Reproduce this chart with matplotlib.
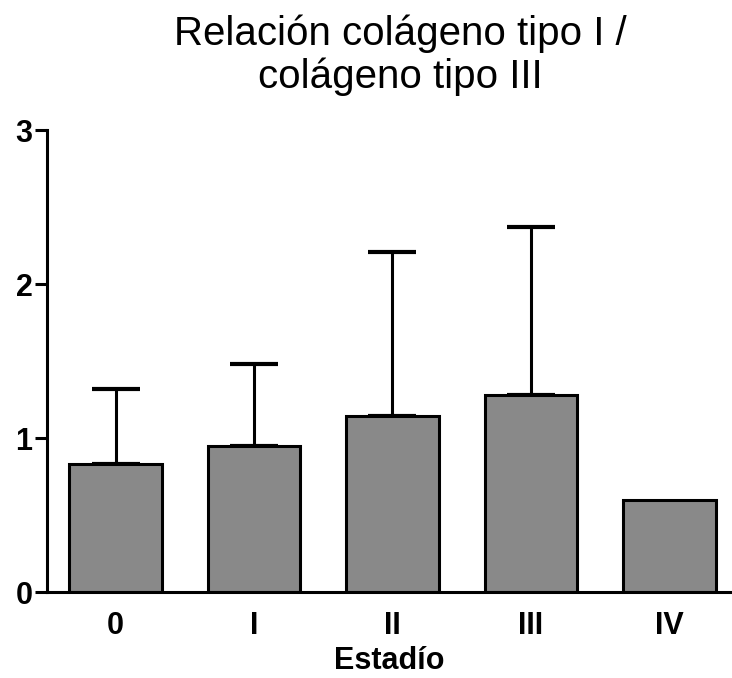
import matplotlib
matplotlib.use('Agg')
import matplotlib.pyplot as plt
import numpy as np

plt.rcParams['font.family'] = 'Liberation Sans'

# collagen I / III ratio per stage, mean and SD (upper bar only)
stages = ['0', 'I', 'II', 'III', 'IV']
ratio = [0.83, 0.95, 1.14, 1.28, 0.60]
sd = [0.49, 0.53, 1.07, 1.09, 0.0]

fig = plt.figure(figsize=(7.32, 6.78), dpi=100)
ax = fig.add_axes((47/732, 86/678, 685/732, 462/678))

x = np.arange(len(stages))
ax.bar(x, ratio, width=0.665, color='#898989', edgecolor='black',
       linewidth=2.2, zorder=2)

# IV has no spread, so only the first four get error bars
has_err = np.array(sd) > 0
ax.errorbar(x[has_err], np.array(ratio)[has_err],
            yerr=[np.zeros(has_err.sum()), np.array(sd)[has_err]],
            fmt='none', ecolor='black', elinewidth=2.2, capsize=17,
            capthick=3, zorder=1)

ax.set_xlim(-0.4946, 4.4513)
ax.set_ylim(0, 3)
ax.set_yticks([0, 1, 2, 3])
ax.set_xticks(x)
ax.set_xticklabels(stages)

for s in ['top', 'right']:
    ax.spines[s].set_visible(False)
for s in ['left', 'bottom']:
    ax.spines[s].set_linewidth(2.2)

ax.tick_params(axis='y', length=8.5, width=2.2, pad=2, labelsize=22)
ax.tick_params(axis='x', length=0, pad=14, labelsize=22)
for lab in ax.get_xticklabels() + ax.get_yticklabels():
    lab.set_fontweight('bold')

ax.set_xlabel('Estadío', fontsize=22, fontweight='bold', labelpad=3)

fig.text(400/732, 1 - 88/678, 'Relación colágeno tipo I /\ncolágeno tipo III',
         ha='center', va='baseline', fontsize=29, linespacing=1.15)

plt.savefig('out.png', dpi=100)
